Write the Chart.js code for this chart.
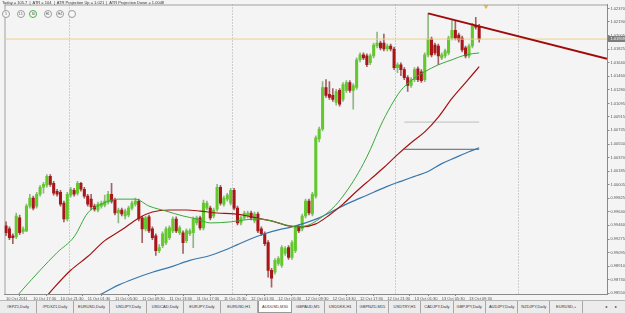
<!DOCTYPE html>
<html><head><meta charset="utf-8">
<script src="https://cdn.jsdelivr.net/npm/chart.js@4.4.0/dist/chart.umd.min.js"></script>
<style>
html,body{margin:0;padding:0;background:#f4f4f4;width:625px;height:313px;overflow:hidden;font-family:"Liberation Sans",Arial,sans-serif;}
#c{position:absolute;left:0;top:0;}
#info{position:absolute;left:2px;top:0px;font-size:4px;line-height:6px;color:#333;white-space:pre;}
.btn{position:absolute;top:9.5px;width:6px;height:6px;border:1px solid #9a9a9a;border-radius:50%;background:#f8f8f8;font-size:3px;line-height:6px;text-align:center;color:#444;}
.btn.on{border-color:#3cb43c;border-width:1.3px;}
#tabs{position:absolute;left:0;top:300px;width:625px;height:13px;background:#ececec;border-top:1px solid #b8b8b8;font-size:4px;line-height:11px;color:#333;}
.tab{position:absolute;top:0;height:12px;border-right:1px solid #a8a8a8;box-sizing:border-box;white-space:nowrap;text-align:center;}
.tab.act{background:#fff;border:1px solid #999;border-top:none;}
.arr{position:absolute;top:0;font-size:4px;color:#333;}
</style></head>
<body>
<canvas id="c" width="625" height="301"></canvas>
<div id="info">Today = 105.7  |  ATR = 104  |  ATR Projection Up = 1.021  |  ATR Projection Down = 1.0048</div>
<div id="btns"></div>
<div id="tabs"></div>
<script>
// ---- data (AUDUSD, M30) ----
const opens = [0.99452,0.99413,0.99320,0.99306,0.99559,0.99373,0.99386,0.99718,0.99824,0.99718,
0.99877,0.99970,0.99997,1.00116,1.00023,0.99917,0.99904,0.99758,0.99545,0.99864,
0.99930,0.99890,1.00023,0.99944,0.99851,0.99811,0.99718,0.99665,0.99718,0.99731,
0.99771,0.99877,0.99797,0.99625,0.99665,0.99585,0.99598,0.99691,0.99744,0.99784,
0.99559,0.99413,0.99572,0.99413,0.99320,0.99121,0.99187,0.99227,0.99293,0.99386,
0.99545,0.99360,0.99360,0.99254,0.99346,0.99360,0.99492,0.99559,0.99426,0.99691,
0.99691,0.99585,0.99678,0.99970,0.99744,0.99811,0.99758,0.99930,0.99691,0.99492,
0.99559,0.99585,0.99625,0.99519,0.99612,0.99413,0.99346,0.99227,0.98856,0.98830,
0.98949,0.98922,0.99081,0.99161,0.99028,0.99121,0.99439,0.99413,0.99585,0.99784,
0.99612,0.99851,1.00620,1.00752,1.01309,1.01216,1.01203,1.01110,1.01270,1.01150,
1.01270,1.01376,1.01270,1.01309,1.01681,1.01747,1.01734,1.01641,1.01734,1.01866,
1.01906,1.01906,1.01826,1.01866,1.01826,1.01575,1.01614,1.01548,1.01442,1.01336,
1.01415,1.01561,1.01521,1.01415,1.01747,1.01959,1.01879,1.01866,1.01707,1.01734,
1.01773,1.01972,1.02078,1.02012,1.01972,1.01840,1.01734,1.01866,1.02145,1.02131];
const highs = [0.99506,0.99439,0.99346,0.99625,0.99598,0.99439,0.99744,0.99877,0.99851,0.99904,
0.99997,1.00036,1.00142,1.00142,1.00050,0.99944,0.99930,0.99784,0.99904,0.99970,
0.99957,1.00050,1.00036,0.99970,0.99877,0.99877,0.99744,0.99771,0.99784,0.99864,
0.99917,1.00023,0.99824,0.99691,0.99691,0.99678,0.99718,0.99784,0.99824,0.99811,
0.99585,0.99585,0.99598,0.99439,0.99346,0.99200,0.99373,0.99439,0.99452,0.99572,
0.99572,0.99452,0.99386,0.99413,0.99413,0.99572,0.99585,0.99585,0.99797,0.99784,
0.99718,0.99691,1.00010,0.99997,0.99851,0.99890,0.99957,0.99957,0.99718,0.99585,
0.99651,0.99651,0.99651,0.99638,0.99638,0.99439,0.99373,0.99254,0.98883,0.99015,
0.99041,0.99187,0.99174,0.99187,0.99254,0.99452,0.99466,0.99612,0.99811,0.99811,
0.99904,1.00659,1.00779,1.01389,1.01415,1.01389,1.01296,1.01283,1.01296,1.01376,
1.01402,1.01402,1.01362,1.01707,1.01773,1.01773,1.01760,1.01760,1.01906,1.02052,
1.01932,1.02025,1.01893,1.01893,1.01853,1.01641,1.01641,1.01575,1.01468,1.01442,
1.01575,1.01588,1.01548,1.01773,1.02304,1.01985,1.01906,1.01893,1.01773,1.01826,
1.01999,1.02211,1.02211,1.02039,1.01999,1.01866,1.01893,1.02171,1.02251,1.02158];
const lows = [0.99320,0.99267,0.99214,0.99280,0.99333,0.99346,0.99373,0.99691,0.99665,0.99691,
0.99851,0.99890,0.99970,0.99983,0.99864,0.99851,0.99718,0.99506,0.99519,0.99837,
0.99851,0.99864,0.99917,0.99824,0.99718,0.99665,0.99651,0.99638,0.99691,0.99705,
0.99744,0.99758,0.99598,0.99492,0.99585,0.99545,0.99572,0.99665,0.99718,0.99519,
0.99227,0.99386,0.99360,0.99267,0.99055,0.99094,0.99161,0.99200,0.99267,0.99360,
0.99360,0.99333,0.99081,0.99227,0.99320,0.99161,0.99466,0.99399,0.99399,0.99665,
0.99532,0.99559,0.99651,0.99731,0.99718,0.99784,0.99731,0.99665,0.99466,0.99466,
0.99532,0.99559,0.99532,0.99492,0.99360,0.99320,0.99187,0.98763,0.98631,0.98803,
0.98922,0.98896,0.99055,0.99001,0.99001,0.99094,0.99360,0.99386,0.99559,0.99598,
0.99585,0.99824,1.00580,1.00726,1.01177,1.01150,1.01124,1.01071,1.01057,1.01124,
1.01243,1.01243,1.01018,1.01283,1.01654,1.01681,1.01588,1.01614,1.01707,1.01840,
1.01813,1.01800,1.01800,1.01800,1.01548,1.01508,1.01468,1.01415,1.01256,1.01309,
1.01389,1.01389,1.01376,1.01389,1.01720,1.01720,1.01747,1.01614,1.01681,1.01707,
1.01747,1.01946,1.01946,1.01919,1.01787,1.01707,1.01707,1.01840,1.02092,1.01919];
const closes = [0.99360,0.99293,0.99293,0.99585,0.99360,0.99413,0.99718,0.99824,0.99691,0.99877,
0.99970,1.00010,1.00116,1.00010,0.99890,0.99877,0.99744,0.99545,0.99877,0.99944,
0.99877,1.00023,0.99944,0.99851,0.99744,0.99705,0.99678,0.99744,0.99758,0.99784,
0.99877,0.99784,0.99625,0.99665,0.99612,0.99651,0.99691,0.99758,0.99784,0.99545,
0.99413,0.99559,0.99386,0.99293,0.99121,0.99161,0.99346,0.99413,0.99426,0.99545,
0.99386,0.99426,0.99227,0.99386,0.99386,0.99545,0.99559,0.99426,0.99758,0.99758,
0.99559,0.99665,0.99970,0.99758,0.99824,0.99864,0.99930,0.99691,0.99492,0.99559,
0.99625,0.99625,0.99559,0.99612,0.99386,0.99346,0.99214,0.98856,0.98750,0.98989,
0.99015,0.99161,0.99147,0.99028,0.99227,0.99426,0.99386,0.99585,0.99784,0.99625,
0.99877,1.00633,1.00752,1.01309,1.01203,1.01177,1.01150,1.01256,1.01084,1.01349,
1.01376,1.01270,1.01336,1.01681,1.01747,1.01707,1.01614,1.01734,1.01879,1.01906,
1.01840,1.01826,1.01866,1.01826,1.01575,1.01614,1.01548,1.01442,1.01336,1.01415,
1.01548,1.01415,1.01402,1.01747,1.01959,1.01747,1.01773,1.01734,1.01747,1.01800,
1.01972,1.02078,1.01972,1.01946,1.01813,1.01734,1.01866,1.02145,1.02118,1.01959];

// moving averages read at sampled bars
const maFastBars = [3,5,10,15,20,24,28,33,38,42,47,52,56,60,66,70,74,78,82,86,89,92,96,99,102,105,107,110,113,116,119,123,127,131,135,139];
const maFastVals = [0.98498,0.98604,0.98856,0.99094,0.99306,0.99625,0.99744,0.99811,0.99811,0.99718,0.99651,0.99585,0.99545,0.99492,0.99506,0.99532,0.99545,0.99519,0.99466,0.99439,0.99466,0.99545,0.99691,0.99851,1.00050,1.00288,1.00474,1.00792,1.01057,1.01270,1.01402,1.01521,1.01614,1.01681,1.01747,1.01773];
const maMidBars = [12,14,19,24,29,34,39,43,48,53,57,62,67,71,75,79,83,87,91,95,99,103,107,111,115,119,123,127,131,135,139];
const maMidVals = [0.98511,0.98617,0.98856,0.99041,0.99254,0.99399,0.99559,0.99638,0.99665,0.99665,0.99651,0.99625,0.99612,0.99585,0.99545,0.99506,0.99452,0.99439,0.99479,0.99598,0.99744,0.99917,1.00076,1.00235,1.00408,1.00567,1.00713,1.00912,1.01163,1.01376,1.01588];
const maSlowBars = [26,28,33,38,43,48,54,60,64,68,72,76,80,84,88,92,96,100,104,108,112,116,120,124,128,132,136,139];
const maSlowVals = [0.98498,0.98538,0.98657,0.98750,0.98830,0.98896,0.98989,0.99055,0.99121,0.99200,0.99280,0.99346,0.99399,0.99439,0.99492,0.99559,0.99651,0.99744,0.99824,0.99904,0.99983,1.00050,1.00116,1.00182,1.00288,1.00368,1.00447,1.00500];

// drawn objects
const trendBars = [124, 176.55];
const trendVals = [1.02304, 1.01694];
const lastPrice = 1.01959;
const projLevels = [1.00845, 1.0048];
const projBars = [117, 139];

// axes
const yTickVals = [1.02370,1.02190,1.02005,1.01825,1.01640,1.01460,1.01280,1.01095,1.00915,1.00735,1.00550,1.00370,1.00185,1.00005,0.99825,0.99640,0.99460,0.99275,0.99095,0.98910,0.98730,0.98550];
const timeTickBars = [0,8,16,24,32,40,48,56,64,72,80,88,96,104,112,120,128,136];
const timeLabels = ["10 Oct 2011","10 Oct 17:30","10 Oct 21:30","11 Oct 01:30","11 Oct 05:30","11 Oct 09:30","11 Oct 13:30","11 Oct 17:30","11 Oct 21:30","12 Oct 01:30","12 Oct 05:30","12 Oct 09:30","12 Oct 13:30","12 Oct 17:30","12 Oct 21:30","13 Oct 01:30","13 Oct 05:30","13 Oct 09:30"];
const daySepBars = [21,69,117,165];
const tabNames = ["#EPZ1,Daily","#PDXZ1,Daily","EURUSD,Daily","USDJPY,Daily","USDCAD,Daily","EURJPY,Daily","EURUSD,H1","AUDUSD,M30","GBPAUD,M5","USDDKK,H1","GBPNZD,M15","USDTRY,H1","CADJPY,Daily","GBPJPY,Daily","AUDJPY,Daily","NZDJPY,Daily","EURUSD,+"];
const activeTab = "AUDUSD,M30";
const tfButtons = ["5","15","30","H1","H4",""];
const activeTf = "30";

// ---- page bits ----
const btnX = [2,16.7,29.3,43.7,56,67.7];
tfButtons.forEach((t,i)=>{const d=document.createElement('div');d.className='btn'+(t===activeTf?' on':'');d.style.left=btnX[i]+'px';d.textContent=t;document.getElementById('btns').appendChild(d);});
const tabEdges = [0,36.8,73.6,110.4,147.2,184,220.8,258,292,324.5,356.8,389,421.3,453.6,485.9,518.2,550.5,583];
const tabsEl=document.getElementById('tabs');
tabNames.forEach((t,i)=>{const s=document.createElement('div');s.className='tab'+(t===activeTab?' act':'');s.style.left=tabEdges[i]+'px';s.style.width=(tabEdges[i+1]-tabEdges[i])+'px';s.textContent=t;tabsEl.appendChild(s);});
['\u25C2','\u25B8'].forEach((a,i)=>{const s=document.createElement('div');s.className='arr';s.style.left=(605+i*10)+'px';s.style.lineHeight='11px';s.textContent=a;tabsEl.appendChild(s);});

// ---- chart ----
const UP='#62c82c', UPB='#3f9a1c', DN='#a8161a', UPW='#8fb784', DNW='#a06464';
const idx = opens.map((_,i)=>i);
const isUp = i => closes[i] >= opens[i];
const X_MIN=-0.45, X_MAX=176.55;
const Y_MAX=1.02423, Y_MIN=0.98538;
const isDay = v => daySepBars.includes(v);

const framePlugin = {
  id:'frame',
  beforeDatasetsDraw(chart){
    const a=chart.chartArea, c=chart.ctx;
    c.save(); c.strokeStyle='#a0a0a0'; c.lineWidth=1;
    c.beginPath(); c.moveTo(a.left, a.top+0.5); c.lineTo(a.right, a.top+0.5); c.stroke();
    c.beginPath(); c.moveTo(a.left+0.5, a.top); c.lineTo(a.left+0.5, a.bottom); c.stroke();
    c.restore();
  },
  afterDraw(chart){
    const c=chart.ctx, ys=chart.scales.y, a=chart.chartArea;
    const y=Math.round(ys.getPixelForValue(lastPrice));
    c.save(); c.fillStyle='#7d7d7d'; c.fillRect(a.right+1, y-3, 625-a.right-1, 6);
    c.fillStyle='#ffffff'; c.font='4px "Liberation Sans"'; c.textBaseline='middle'; c.textAlign='left';
    c.fillText(lastPrice.toFixed(5), a.right+3.5, y+0.3); c.restore();
  }
};

new Chart(document.getElementById('c'), {
  type:'bar',
  data:{datasets:[
    {type:'line', data: trendBars.map((b,i)=>({x:b,y:trendVals[i]})), borderColor:'#a00a0a', borderWidth:2, pointRadius:0, order:0},
    {type:'line', data: maFastBars.map((b,i)=>({x:b,y:maFastVals[i]})), borderColor:'#3aa83a', borderWidth:1, pointRadius:0, cubicInterpolationMode:'monotone', order:1},
    {type:'line', data: maMidBars.map((b,i)=>({x:b,y:maMidVals[i]})), borderColor:'#a31212', borderWidth:1.2, pointRadius:0, cubicInterpolationMode:'monotone', order:1},
    {type:'line', data: maSlowBars.map((b,i)=>({x:b,y:maSlowVals[i]})), borderColor:'#3a78ac', borderWidth:1.2, pointRadius:0, cubicInterpolationMode:'monotone', order:1},
    {type:'line', data: [{x:X_MIN,y:lastPrice},{x:X_MAX,y:lastPrice}], borderColor:'#f2cf86', borderWidth:1, pointRadius:0, order:3},
    {type:'line', data: projBars.map(b=>({x:b,y:projLevels[0]})), borderColor:'#bdbdbd', borderWidth:1, pointRadius:0, order:2},
    {type:'line', data: projBars.map(b=>({x:b,y:projLevels[1]})), borderColor:'#5a6470', borderWidth:1, pointRadius:0, order:2},
    {type:'scatter', data:[{x:141,y:Y_MAX-0.00025}], pointStyle:'triangle', rotation:180, radius:2.2, backgroundColor:'#e8c040', borderColor:'#c9a020', borderWidth:0.5, order:0},
    {type:'bar', data: idx.map(i=>({x:i,y:[lows[i],highs[i]]})), backgroundColor: idx.map(i=>isUp(i)?UPW:DNW), barThickness:1, grouped:false, order:6},
    {type:'bar', data: idx.map(i=>({x:i,y:[opens[i],closes[i]]})), backgroundColor: idx.map(i=>isUp(i)?UP:DN), borderColor: idx.map(i=>isUp(i)?UPB:DN), borderWidth:0, barThickness:2.4, grouped:false, order:5, minBarLength:1}
  ]},
  options:{
    responsive:false, animation:false, devicePixelRatio:1,
    layout:{padding:{top:1,left:0,right:0,bottom:0}},
    plugins:{legend:{display:false}, tooltip:{enabled:false}},
    scales:{
      x:{type:'linear', min:X_MIN, max:X_MAX, offset:false,
        afterBuildTicks: s => { s.ticks = timeTickBars.concat(daySepBars).sort((a,b)=>a-b).map(v=>({value:v})); },
        afterFit: s => { s.height = 7; },
        ticks:{autoSkip:false, maxRotation:0, align:'start', padding:0.5, font:{size:4, family:'Liberation Sans'}, color:'#555',
          callback: v => { const k=timeTickBars.indexOf(v); return k>=0 ? timeLabels[k] : ''; }},
        grid:{drawOnChartArea:true, tickLength:2, color: c => (c.tick && isDay(c.tick.value)) ? '#a8a8a8' : 'rgba(0,0,0,0)',
          tickColor: c => (c.tick && isDay(c.tick.value)) ? 'rgba(0,0,0,0)' : '#888', tickBorderDash:[]},
        border:{display:true, color:'#8a8a8a', dash: c => (c.tick && isDay(c.tick.value)) ? [1,2] : []}
      },
      y:{position:'right', min:Y_MIN, max:Y_MAX,
        afterBuildTicks: s => { s.ticks = yTickVals.map(v=>({value:v})); },
        afterFit: s => { s.width = 18; },
        ticks:{padding:1, font:{size:4, family:'Liberation Sans'}, color:'#555', callback: v => Number(v).toFixed(5)},
        grid:{drawOnChartArea:false, tickLength:2.5, tickColor:'#888'},
        border:{display:true, color:'#8a8a8a'}
      }
    }
  },
  plugins:[framePlugin]
});
</script>
</body></html>
